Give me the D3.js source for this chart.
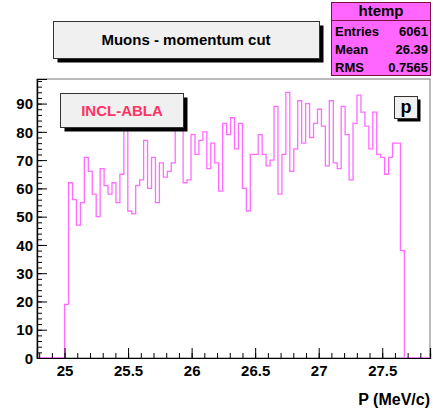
<!DOCTYPE html>
<html>
<head>
<meta charset="utf-8">
<script src="https://cdn.jsdelivr.net/npm/d3@7"></script>
<style>
body { margin: 0; background: #fff; }
text { font-family: "Liberation Sans", Arial, sans-serif; font-weight: bold; }
</style>
</head>
<body>
<svg id="chart"></svg>
<script>
// histogram binning: counts start at binStart, each bin binW wide
var xMin = 24.783, xMax = 27.876, binStart = 25.0, binW = 0.0311;
var counts = [19, 62, 56, 47, 55, 71, 66, 58, 50, 67,
	61, 58, 62, 55, 65, 86, 52, 51, 61, 63,
	77, 60, 71, 55, 69, 64, 66, 69, 86, 84,
	62, 63, 79, 72, 77, 80, 67, 76, 69, 59,
	83, 79, 85, 74, 83, 60, 52, 72, 72, 79,
	72, 68, 70, 89, 58, 72, 94, 66, 74, 91,
	76, 90, 78, 83, 88, 82, 68, 91, 69, 67,
	89, 79, 63, 83, 93, 87, 82, 74, 87, 72,
	71, 65, 71, 76, 76, 38];
var xTicks = [25, 25.5, 26, 26.5, 27, 27.5];
var yTicks = [0, 10, 20, 30, 40, 50, 60, 70, 80, 90];
var statNames = ["Entries", "Mean", "RMS"];
var statValues = ["6061", "26.39", "0.7565"];

var W = 433, H = 413,
	frame = {left: 37, right: 430, top: 79, bottom: 358},
	yMax = d3.max(counts) * 1.05;

var svg = d3.select("#chart").attr("width", W).attr("height", H);

var xScale = d3.scaleLinear().domain([xMin, xMax]).range([frame.left, frame.right]);
var yScale = d3.scaleLinear().domain([0, yMax]).range([frame.bottom, frame.top]);

// frame
svg.append("rect")
	.attr("x", frame.left).attr("y", frame.top)
	.attr("width", frame.right - frame.left).attr("height", frame.bottom - frame.top)
	.attr("fill", "none").attr("stroke", "#777").attr("stroke-width", 1);

// histogram outline
var pts = [[xMin, 0], [binStart, 0]];
counts.forEach(function(v, i) {
	pts.push([binStart + i * binW, v]);
	pts.push([binStart + (i + 1) * binW, v]);
});
pts.push([binStart + counts.length * binW, 0]);
pts.push([xMax, 0]);

var line = d3.line()
	.x(function(d) { return xScale(d[0]); })
	.y(function(d) { return yScale(d[1]); });

svg.append("path")
	.datum(pts)
	.attr("d", line)
	.attr("fill", "none")
	.attr("stroke", "#ff6cff")
	.attr("stroke-width", 1.3);

// x axis
var xAxis = d3.axisBottom(xScale).tickValues(xTicks).tickSize(-10).tickPadding(7)
	.tickFormat(function(d) { return d; });
var gx = svg.append("g")
	.attr("transform", "translate(0," + frame.bottom + ")")
	.call(xAxis);
gx.append("g").call(d3.axisBottom(xScale).tickValues(d3.range(24.8, 27.9, 0.1)).tickSize(-5).tickFormat(""));

// y axis
var yAxis = d3.axisLeft(yScale).tickValues(yTicks).tickSize(-10).tickPadding(4);
var gy = svg.append("g")
	.attr("transform", "translate(" + frame.left + ",0)")
	.call(yAxis);
gy.append("g").call(d3.axisLeft(yScale).tickValues(d3.range(0, yMax, 2)).tickSize(-5).tickFormat(""));

svg.selectAll(".domain").attr("stroke", "#000").attr("stroke-width", 1.2);
svg.selectAll(".tick line").attr("stroke", "#000");
svg.selectAll(".tick text").attr("font-size", 15).attr("fill", "#000")
	.attr("font-family", "Liberation Sans, Arial, sans-serif").attr("font-weight", "bold");
gy.selectAll(".tick text").attr("dy", "0.35em");

svg.append("text")
	.attr("x", 430).attr("y", 405)
	.attr("text-anchor", "end").attr("font-size", 16)
	.text("P (MeV/c)");

// boxes with shadow
function box(x, y, w, h, off, fill) {
	svg.append("rect").attr("x", x + off).attr("y", y + off).attr("width", w).attr("height", h).attr("fill", "#000");
	svg.append("rect").attr("x", x).attr("y", y).attr("width", w).attr("height", h)
		.attr("fill", fill).attr("stroke", "#333").attr("stroke-width", 1);
}

box(53.5, 21.5, 266, 37, 4, "#f0f0f0");
svg.append("text").attr("x", 186).attr("y", 45).attr("text-anchor", "middle")
	.attr("font-size", 15).text("Muons - momentum cut");

box(60.5, 93.5, 123, 34, 4, "#f0f0f0");
svg.append("text").attr("x", 122).attr("y", 116).attr("text-anchor", "middle")
	.attr("font-size", 15).attr("fill", "#ff3366").text("INCL-ABLA");

box(394.5, 96.5, 23, 22, 3, "#f0f0f0");
svg.append("text").attr("x", 406).attr("y", 113).attr("text-anchor", "middle")
	.attr("font-size", 18).text("p");

// stats box
var sb = {x: 331.5, y: 2.5, w: 99, h: 73};
svg.append("rect").attr("x", sb.x).attr("y", sb.y).attr("width", sb.w).attr("height", sb.h)
	.attr("fill", "#ff66ff").attr("stroke", "#7a1040").attr("stroke-width", 1);
svg.append("line").attr("x1", sb.x).attr("x2", sb.x + sb.w).attr("y1", 20.5).attr("y2", 20.5)
	.attr("stroke", "#7a1040");
svg.append("text").attr("x", sb.x + sb.w / 2).attr("y", 16).attr("text-anchor", "middle")
	.attr("font-size", 15).text("htemp");

var rows = svg.selectAll(".stat")
	.data(statNames)
	.enter().append("g")
	.attr("class", "stat")
	.attr("transform", function(d, i) { return "translate(0," + (36 + i * 18) + ")"; });
rows.append("text").attr("x", 335).attr("font-size", 13).text(function(d) { return d; });
rows.append("text").attr("x", 428).attr("text-anchor", "end").attr("font-size", 13)
	.text(function(d, i) { return statValues[i]; });
</script>
</body>
</html>
